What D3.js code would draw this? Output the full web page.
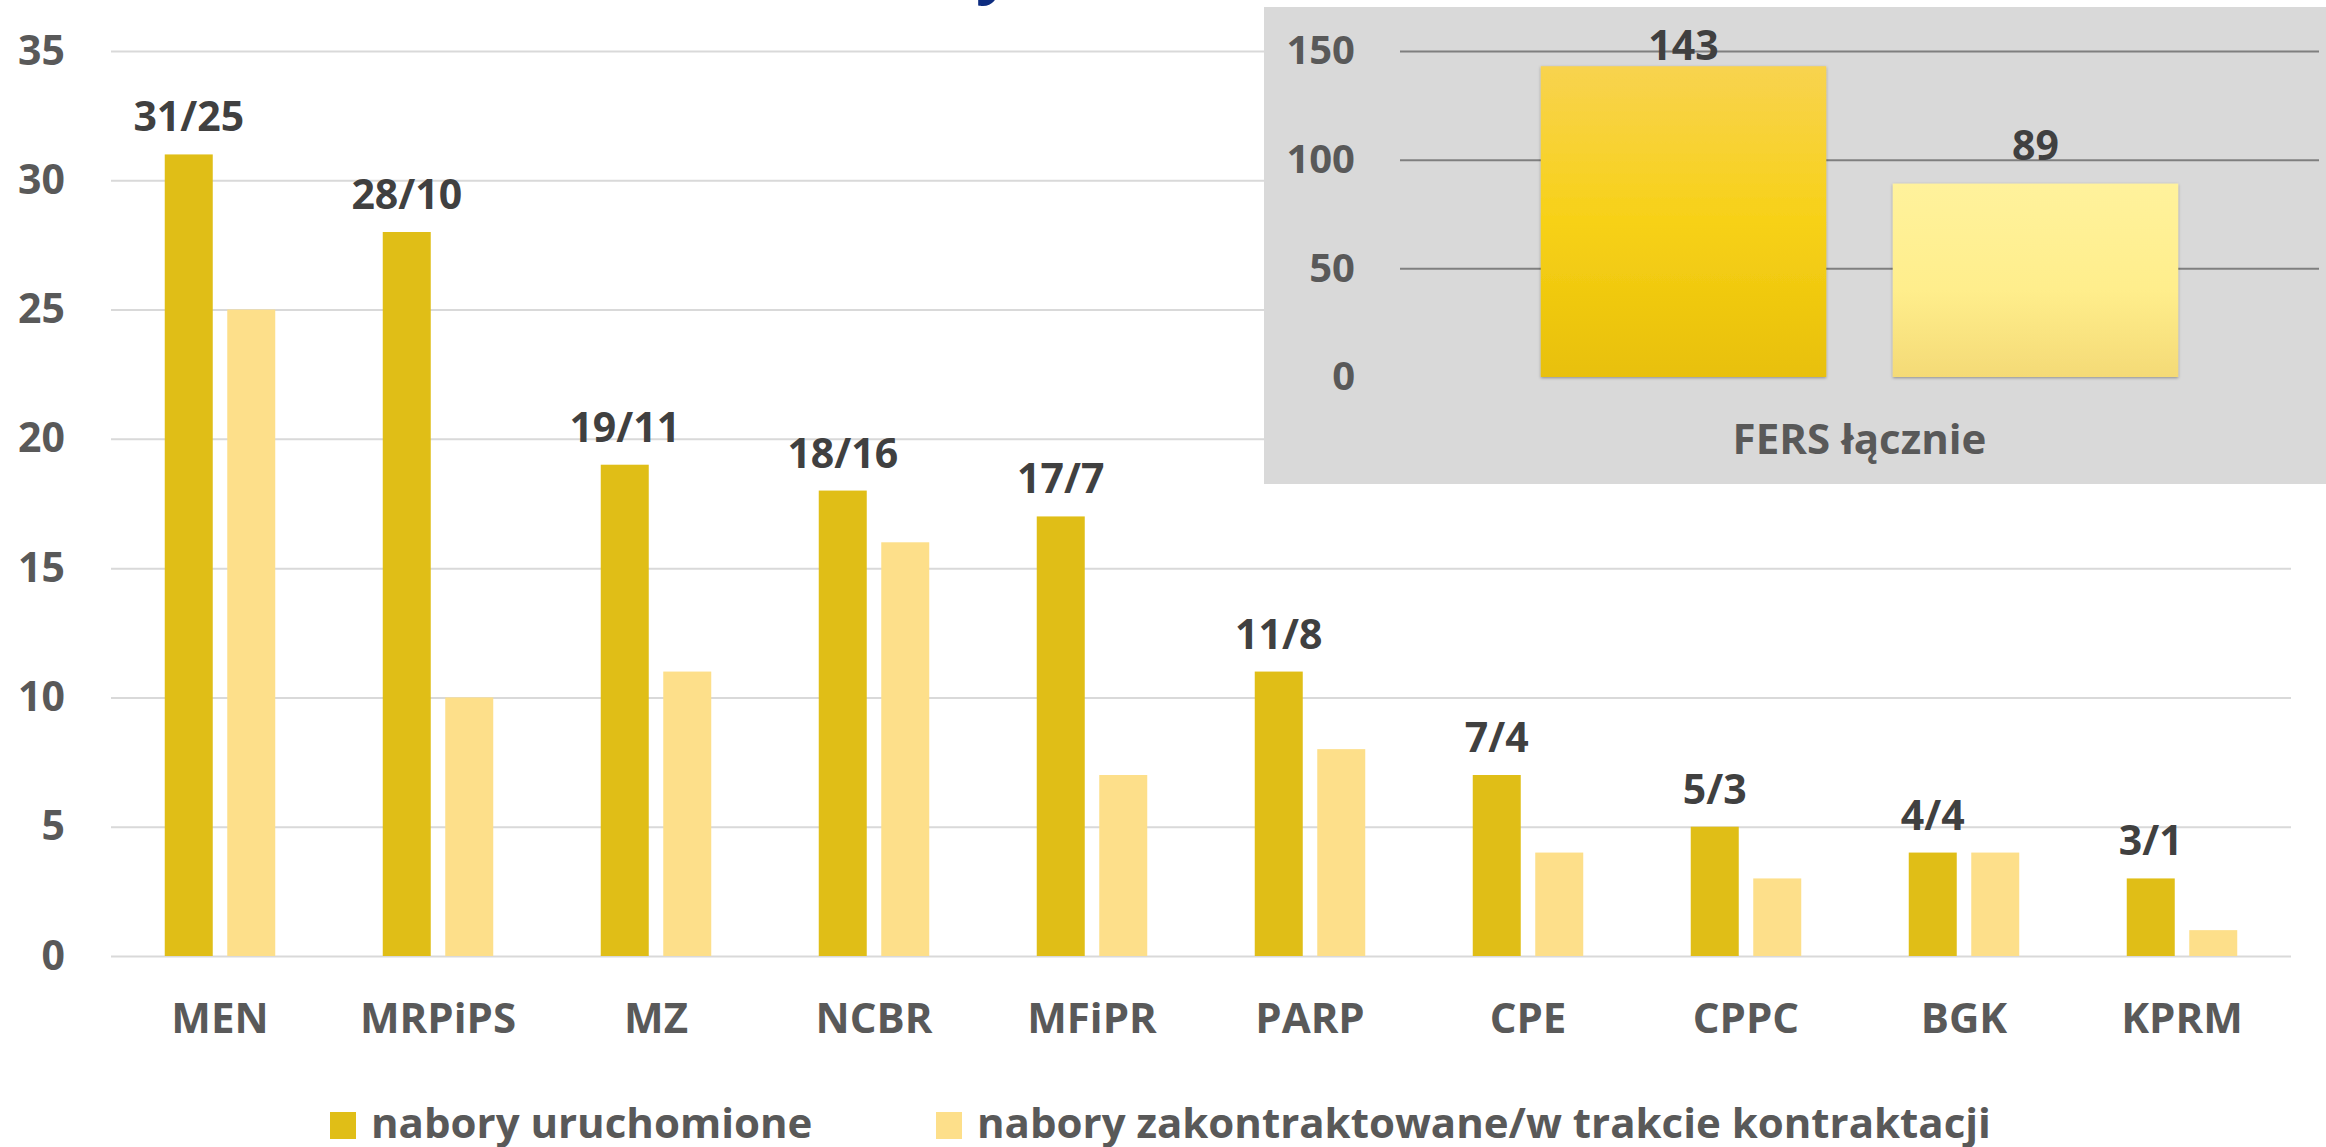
<!DOCTYPE html>
<html>
<head>
<meta charset="utf-8">
<script src="https://cdn.jsdelivr.net/npm/d3@7"></script>
<style>
  html, body { margin: 0; padding: 0; background: #fff; }
  svg { display: block; }
</style>
</head>
<body>
<div id="chart"></div>
<script>
// data
const categories = ['MEN', 'MRPiPS', 'MZ', 'NCBR', 'MFiPR', 'PARP', 'CPE', 'CPPC', 'BGK', 'KPRM'];
const seriesNames = ['nabory uruchomione', 'nabory zakontraktowane/w trakcie kontraktacji'];
const launched = [31, 28, 19, 18, 17, 11, 7, 5, 4, 3];
const contracted = [25, 10, 11, 16, 7, 8, 4, 3, 4, 1];
const yTicks = [0, 5, 10, 15, 20, 25, 30, 35];

const totalCategory = 'FERS łącznie';
const totalValues = [143, 89];
const totalTicks = [0, 50, 100, 150];

const width = 2326;
const height = 1147;
const fontFamily = '"Open Sans", "Noto Sans", sans-serif';
const axisColor = '#595959';
const labelColor = '#404040';
const darkYellow = '#E0BE17';
const lightYellow = '#FDDF8A';

const svg = d3.select('#chart')
  .append('svg')
    .attr('width', width)
    .attr('height', height)
    .style('font-family', fontFamily)
    .style('font-weight', 700);

svg.append('rect')
  .attr('width', width).attr('height', height).attr('fill', '#fff');

// cut-off title from the slide (only the descender of the "y" shows)
svg.append('text')
  .attr('x', 976)
  .attr('y', -10)
  .attr('fill', '#0D2C80')
  .style('font-size', '64px')
  .text('y');

// ---- main chart ----
const xScale = d3.scaleBand()
  .domain(categories)
  .range([111, 2291])
  .padding(0);

const xSub = d3.scaleBand()
  .domain(seriesNames)
  .range([0, xScale.bandwidth()])
  .paddingInner(0.232)
  .paddingOuter(0.86);

const yScale = d3.scaleLinear()
  .domain([0, 35])
  .range([956, 51]);

const yAxis = svg.append('g')
  .attr('transform', 'translate(111,0)')
  .call(d3.axisLeft(yScale)
    .tickValues(yTicks)
    .tickSize(-2180)
    .tickPadding(46))
  .call(g => g.select('.domain').remove())
  .call(g => g.selectAll('.tick line')
    .attr('stroke', '#D9D9D9')
    .attr('stroke-width', 2))
  .call(g => g.selectAll('.tick text')
    .attr('fill', axisColor)
    .style('font-size', '41px')
    .style('font-family', fontFamily)
    .style('font-weight', 700));

const xAxis = svg.append('g')
  .attr('transform', 'translate(0,956)')
  .call(d3.axisBottom(xScale).tickSize(0).tickPadding(47))
  .call(g => g.select('.domain').remove())
  .call(g => g.selectAll('.tick text')
    .attr('fill', axisColor)
    .style('font-size', '42px')
    .style('font-family', fontFamily)
    .style('font-weight', 700));

const rows = categories.map((c, i) => ({cat: c, vals: [launched[i], contracted[i]]}));
const barColor = d3.scaleOrdinal().domain(seriesNames).range([darkYellow, lightYellow]);

const groups = svg.append('g')
  .selectAll('g')
  .data(rows)
  .join('g')
    .attr('transform', d => `translate(${xScale(d.cat)},0)`);

groups.selectAll('rect')
  .data(d => d.vals.map((v, k) => ({key: seriesNames[k], value: v})))
  .join('rect')
    .attr('x', d => xSub(d.key))
    .attr('y', d => yScale(d.value))
    .attr('width', xSub.bandwidth())
    .attr('height', d => yScale(0) - yScale(d.value))
    .attr('fill', d => barColor(d.key));

groups.append('text')
  .attr('x', xSub(seriesNames[0]) + xSub.bandwidth() / 2)
  .attr('y', d => yScale(d.vals[0]) - 23)
  .attr('text-anchor', 'middle')
  .attr('fill', labelColor)
  .style('font-size', '41px')
  .text(d => d.vals[0] + '/' + d.vals[1]);

// legend
const legendX = [330, 936];
const legend = svg.append('g')
  .selectAll('g')
  .data(seriesNames)
  .join('g')
    .attr('transform', (d, i) => `translate(${legendX[i]},1112)`);

legend.append('rect')
  .attr('width', 26)
  .attr('height', 27)
  .attr('fill', d => barColor(d));

legend.append('text')
  .attr('x', 41)
  .attr('y', 26)
  .attr('fill', axisColor)
  .style('font-size', '42px')
  .text(d => d);

// ---- inset: FERS total ----
const inset = svg.append('g');

inset.append('rect')
  .attr('x', 1264)
  .attr('y', 7)
  .attr('width', 1070)
  .attr('height', 477)
  .attr('fill', '#D9D9D9');

const defs = svg.append('defs');
const gradDark = defs.append('linearGradient')
  .attr('id', 'gradDark').attr('x1', 0).attr('y1', 0).attr('x2', 0).attr('y2', 1);
gradDark.append('stop').attr('offset', '0%').attr('stop-color', '#F8D34F');
gradDark.append('stop').attr('offset', '50%').attr('stop-color', '#F7D117');
gradDark.append('stop').attr('offset', '100%').attr('stop-color', '#E8C008');

const gradLight = defs.append('linearGradient')
  .attr('id', 'gradLight').attr('x1', 0).attr('y1', 0).attr('x2', 0).attr('y2', 1);
gradLight.append('stop').attr('offset', '0%').attr('stop-color', '#FFF29C');
gradLight.append('stop').attr('offset', '55%').attr('stop-color', '#FFEE8C');
gradLight.append('stop').attr('offset', '100%').attr('stop-color', '#F4DA76');

const shadow = defs.append('filter')
  .attr('id', 'barShadow')
  .attr('x', '-5%').attr('y', '-5%').attr('width', '110%').attr('height', '110%');
shadow.append('feDropShadow')
  .attr('dx', 0).attr('dy', 1)
  .attr('stdDeviation', 1.5)
  .attr('flood-color', '#000')
  .attr('flood-opacity', 0.35);

const xTotal = d3.scaleBand()
  .domain([totalCategory])
  .range([1400, 2319])
  .padding(0);

const xTotalSub = d3.scaleBand()
  .domain(seriesNames)
  .range([0, xTotal.bandwidth()])
  .paddingInner(0.189)
  .paddingOuter(0.4);

const yTotal = d3.scaleLinear()
  .domain([0, 150])
  .range([377, 51]);

inset.append('g')
  .attr('transform', 'translate(1400,0)')
  .call(d3.axisLeft(yTotal)
    .tickValues(totalTicks)
    .tickSize(-919)
    .tickPadding(45))
  .call(g => g.select('.domain').remove())
  .call(g => g.selectAll('.tick line')
    .attr('stroke', '#7F7F7F')
    .attr('stroke-width', 2)
    .attr('stroke-opacity', d => d === 0 ? 0 : 1))
  .call(g => g.selectAll('.tick text')
    .attr('fill', axisColor)
    .style('font-size', '40px')
    .style('font-family', fontFamily)
    .style('font-weight', 700));

inset.append('g')
  .attr('transform', 'translate(0,377)')
  .call(d3.axisBottom(xTotal).tickSize(0).tickPadding(47))
  .call(g => g.select('.domain').remove())
  .call(g => g.selectAll('.tick text')
    .attr('fill', axisColor)
    .style('font-size', '42px')
    .style('font-family', fontFamily)
    .style('font-weight', 700));

const totals = seriesNames.map((s, k) => ({key: s, value: totalValues[k]}));
const totalFill = d3.scaleOrdinal().domain(seriesNames).range(['url(#gradDark)', 'url(#gradLight)']);

inset.selectAll('.totalBar')
  .data(totals)
  .join('rect')
    .attr('class', 'totalBar')
    .attr('x', d => xTotal(totalCategory) + xTotalSub(d.key))
    .attr('y', d => yTotal(d.value))
    .attr('width', xTotalSub.bandwidth())
    .attr('height', d => yTotal(0) - yTotal(d.value))
    .attr('fill', d => totalFill(d.key))
    .attr('filter', 'url(#barShadow)');

inset.selectAll('.totalLabel')
  .data(totals)
  .join('text')
    .attr('class', 'totalLabel')
    .attr('x', d => xTotal(totalCategory) + xTotalSub(d.key) + xTotalSub.bandwidth() / 2)
    .attr('y', d => Math.max(yTotal(d.value) - 24, yTotal(150) + 9))
    .attr('text-anchor', 'middle')
    .attr('fill', labelColor)
    .style('font-size', '41px')
    .text(d => d.value);
</script>
</body>
</html>
